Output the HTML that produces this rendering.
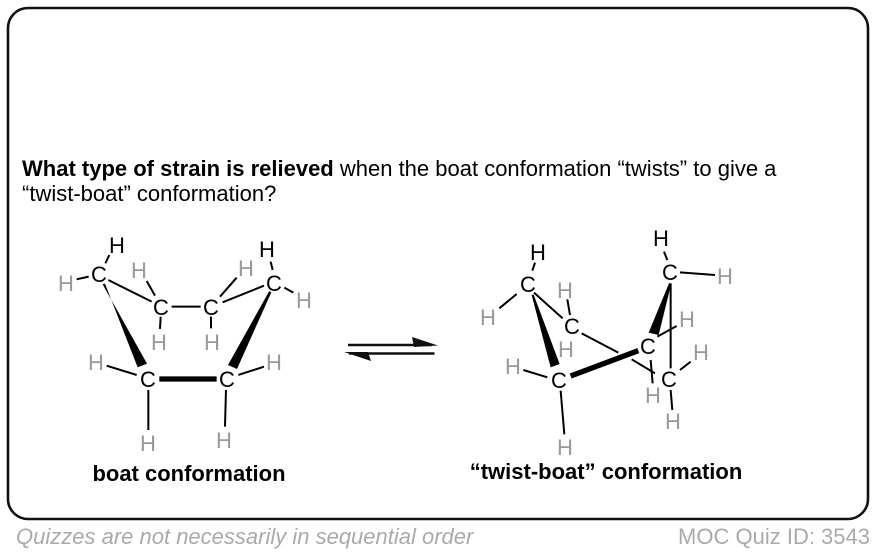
<!DOCTYPE html>
<html><head><meta charset="utf-8"><style>
html,body{margin:0;padding:0;background:#fff;width:876px;height:554px;overflow:hidden}
svg{display:block}
text{font-family:"Liberation Sans",sans-serif}
.k,.g{font-size:22px;text-anchor:middle}
.k{fill:#000}.g{fill:#999}
.c{font-size:22px;text-anchor:middle;fill:#000}
</style></head><body>
<svg width="876" height="554" viewBox="0 0 876 554" xmlns="http://www.w3.org/2000/svg">
<rect x="8" y="8" width="860" height="511" rx="20" ry="20" fill="#fff" stroke="#111" stroke-width="2.6"/>
<text x="22" y="176" font-size="22" fill="#000"><tspan font-weight="bold">What type of strain is relieved</tspan> when the boat conformation “twists” to give a</text>
<text x="22" y="201" font-size="22" fill="#000">“twist-boat” conformation?</text>

<!-- boat bonds -->
<g transform="translate(40,225) scale(.3333)" stroke="#000" fill="none" stroke-width="6">
<path d="M208 90L196 115M110 163L146 155M205 165L335 230M395 245H482M320 168L345 212M362 275L360 312M513 275V310M590 158L540 215M548 232L672 182M692 110L698 135M733 188L760 203M200 422L290 450M595 450L672 425M325 495V615M558 495L555 605"/>
<path d="M358 462H530" stroke-width="16"/>
<path d="M188 178L195 176L293 427L321 416Z" fill="#000" stroke="none"/>
<path d="M688 198L694 202L591 432L564 420Z" fill="#000" stroke="none"/>
</g>
<text class="c" x="99" y="282">C</text><text class="c" x="161" y="315">C</text><text class="c" x="211" y="315">C</text><text class="c" x="274" y="291">C</text><text class="c" x="148" y="387">C</text><text class="c" x="227" y="387">C</text>
<text class="k" x="117" y="253">H</text><text class="k" x="267" y="257">H</text>
<text class="g" x="66" y="291">H</text><text class="g" x="139" y="278">H</text><text class="g" x="159" y="350">H</text><text class="g" x="246" y="276">H</text><text class="g" x="212" y="350">H</text><text class="g" x="304" y="308">H</text><text class="g" x="96" y="370">H</text><text class="g" x="274" y="370">H</text><text class="g" x="148" y="451">H</text><text class="g" x="224" y="448">H</text>
<text x="189" y="481" font-size="22" font-weight="bold" text-anchor="middle" fill="#000">boat conformation</text>

<!-- arrows -->
<path d="M348 345H432" stroke="#111" stroke-width="2.6"/>
<path d="M412 337L438 345.500L414 347Z" fill="#111"/>
<path d="M349 353.500H434.500" stroke="#111" stroke-width="2.6"/>
<path d="M344 352L371 361L368 352Z" fill="#111"/>

<!-- twist-boat bonds -->
<g transform="translate(460,220) scale(.3333)" stroke="#000" fill="none" stroke-width="6">
<path d="M225 128L217 152M118 265L170 222M322 238L330 285M222 218L308 295M365 340L475 398M515 418L585 460M632 190V445M592 350L650 318M572 420L578 490M660 450L692 425M632 510L637 570M302 512L313 643M190 450L262 472M660 157L765 165M612 95L622 120"/>
<path d="M332 468L535 392" stroke-width="16"/>
<path d="M215 225L221 224L299 432L272 442Z" fill="#000" stroke="none"/>
<path d="M627 190L634 190L596 345L566 338Z" fill="#000" stroke="none"/>
</g>
<text class="c" x="528" y="292">C</text><text class="c" x="572" y="334">C</text><text class="c" x="648" y="354">C</text><text class="c" x="670" y="280">C</text><text class="c" x="669" y="387">C</text><text class="c" x="559" y="388">C</text>
<text class="k" x="538" y="260">H</text><text class="k" x="661" y="246">H</text>
<text class="g" x="488" y="325">H</text><text class="g" x="565" y="298">H</text><text class="g" x="566" y="357">H</text><text class="g" x="513" y="374">H</text><text class="g" x="565" y="455">H</text><text class="g" x="725" y="284">H</text><text class="g" x="687" y="327">H</text><text class="g" x="701" y="360">H</text><text class="g" x="653" y="403">H</text><text class="g" x="673" y="429">H</text>
<text x="606" y="479" font-size="22" font-weight="bold" text-anchor="middle" fill="#000">“twist-boat” conformation</text>

<text x="16" y="544" font-size="22" font-style="italic" fill="#aaa">Quizzes are not necessarily in sequential order</text>
<text x="870" y="544" font-size="22" text-anchor="end" fill="#aaa">MOC Quiz ID: 3543</text>
</svg>
</body></html>
